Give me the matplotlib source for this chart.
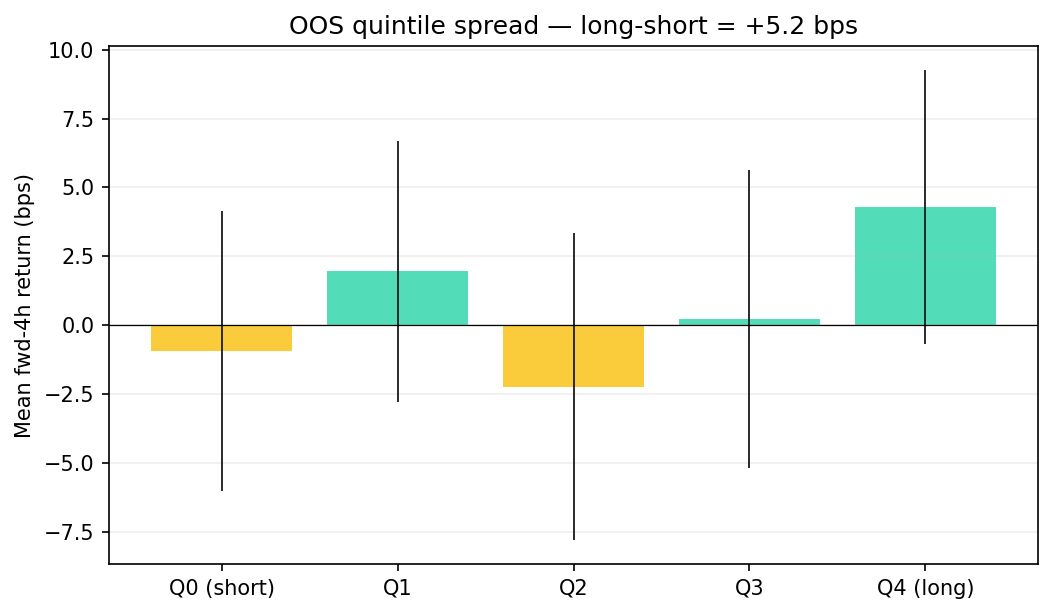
import numpy as np
import matplotlib.pyplot as plt

labels = ["Q0 (short)", "Q1", "Q2", "Q3", "Q4 (long)"]
means = [-0.93, 1.95, -2.24, 0.23, 4.29]
errs = [5.09, 4.73, 5.58, 5.42, 4.99]

colors = ["#facb3a" if m < 0 else "#52dcb8" for m in means]

fig, ax = plt.subplots(figsize=(7.02, 4.1), dpi=150)
x = np.arange(len(labels))
ax.bar(x, means, yerr=errs, color=colors, width=0.8,
       error_kw=dict(ecolor="#222222", elinewidth=0.9, capsize=0))
ax.axhline(0, color="black", lw=0.6)
ax.set_xticks(x)
ax.set_xticklabels(labels)
ax.set_ylabel("Mean fwd-4h return (bps)")
ax.set_title("OOS quintile spread \u2014 long-short = +5.2 bps")
ax.grid(axis="y", alpha=0.2)

fig.subplots_adjust(left=0.1035, right=0.9858, top=0.9252, bottom=0.0829)
fig.savefig("out.png", dpi=150)
